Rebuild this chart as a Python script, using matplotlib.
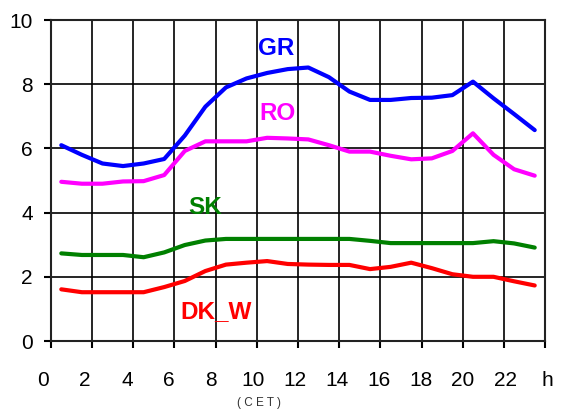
import matplotlib
matplotlib.use('Agg')
import matplotlib.pyplot as plt
import matplotlib.transforms as mtransforms
import numpy as np

plt.rcParams['font.family'] = ['Liberation Sans', 'DejaVu Sans']

# hourly values, plotted at the middle of each hour
hours = np.arange(24) + 0.5
gr = [6.10, 5.80, 5.53, 5.45, 5.53, 5.67, 6.40, 7.30, 7.90, 8.18, 8.35, 8.47,
      8.52, 8.22, 7.77, 7.51, 7.51, 7.57, 7.58, 7.66, 8.08, 7.56, 7.07, 6.57]
ro = [4.96, 4.90, 4.90, 4.97, 4.98, 5.17, 5.92, 6.22, 6.22, 6.22, 6.33, 6.31,
      6.28, 6.10, 5.90, 5.90, 5.77, 5.66, 5.69, 5.92, 6.47, 5.80, 5.35, 5.15]
sk = [2.73, 2.68, 2.68, 2.68, 2.61, 2.76, 2.99, 3.13, 3.18, 3.18, 3.18, 3.18,
      3.18, 3.18, 3.18, 3.12, 3.05, 3.05, 3.05, 3.05, 3.05, 3.11, 3.04, 2.91]
dk_w = [1.61, 1.52, 1.52, 1.52, 1.52, 1.68, 1.87, 2.18, 2.38, 2.44, 2.49, 2.40,
        2.38, 2.37, 2.37, 2.24, 2.31, 2.44, 2.27, 2.08, 2.00, 2.00, 1.86, 1.73]

x_labels = ['0', '2', '4', '6', '8', '10', '12', '14', '16', '18', '20', '22', 'h']

fig = plt.figure(figsize=(5.66, 4.15), dpi=100)
ax = fig.add_axes([0.0901, 0.1783, 0.8728, 0.7735])

ax.plot(hours, gr, color='#0000ff', lw=3, solid_capstyle='round', zorder=3)
ax.plot(hours, ro, color='#ff00ff', lw=3, solid_capstyle='round', zorder=3)
ax.plot(hours, sk, color='#008000', lw=3, solid_capstyle='round', zorder=3)
ax.plot(hours, dk_w, color='#ff0000', lw=3, solid_capstyle='round', zorder=3)

ax.text(10.95, 9.1, 'GR', color='#0000ff', fontsize=17.5, fontweight='bold', ha='center', va='center')
ax.text(11.0, 7.1, 'RO', color='#ff00ff', fontsize=17.5, fontweight='bold', ha='center', va='center')
ax.text(7.5, 4.15, 'SK', color='#008000', fontsize=17.5, fontweight='bold', ha='center', va='center')
ax.text(8.0, 0.93, 'DK_W', color='#ff0000', fontsize=17.5, fontweight='bold', ha='center', va='center')

ax.set_xlim(0, 24)
ax.set_ylim(0, 10)

# grid lines and tick marks every 2 hours
ax.set_xticks(np.arange(0, 25, 2))
ax.set_xticklabels([])
ax.tick_params(axis='x', length=5, width=1.5, direction='out')

# hour labels sit slightly left of the grid lines, as in the original
trans = mtransforms.blended_transform_factory(ax.transData, fig.transFigure)
label_pos = (43 + 42 * np.arange(13) - 51) / 20.58
for xp, lab in zip(label_pos, x_labels):
    ax.text(xp, 1 - 380 / 415, lab, transform=trans, fontsize=15, ha='center', va='center', clip_on=False)

ax.set_yticks(np.arange(0, 11, 2))
ax.tick_params(axis='y', length=5, width=1.5, direction='out', pad=8, labelsize=15)

ax.grid(True, which='major', color='black', lw=1.2)
for s in ax.spines.values():
    s.set_color('#222222')
    s.set_linewidth(1.5)

fig.text(259 / 566, 1 - 403 / 415, '( C E T )', fontsize=8.5, ha='center', va='center', color='#333333')

fig.savefig('out.png', dpi=100)
